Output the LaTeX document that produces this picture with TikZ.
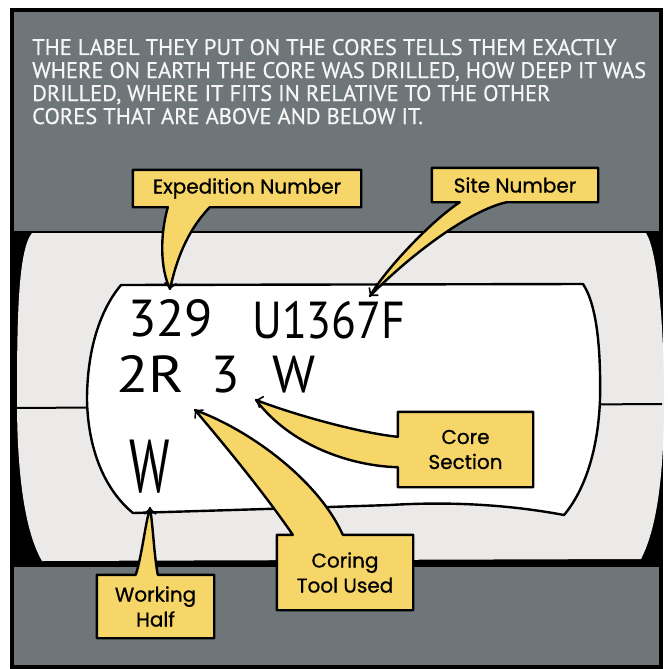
\documentclass[tikz,border=0pt]{standalone}
\usepackage{fontspec}
\setmainfont{PT Sans}
\newfontfamily\capfont[FakeBold=0.6]{PT Sans}
\newfontfamily\tagfont[FakeBold=0.8]{Poppins}
\usetikzlibrary{arrows.meta,calc}

\definecolor{panelgray}{RGB}{110,118,121}
\definecolor{coregray}{RGB}{236,233,233}
\definecolor{tagyellow}{RGB}{246,214,104}
\definecolor{captionwhite}{RGB}{246,246,246}

\pgfdeclarelayer{back}
\pgfsetlayers{back,main}

\begin{document}
\begin{tikzpicture}[x=1pt, y=-1pt,
  caption/.style={anchor=base west, inner sep=0pt, text=captionwhite, font=\capfont\fontsize{22.5}{22.5}\selectfont},
  hand/.style={anchor=base west, inner sep=0pt, font=\fontsize{52}{52}\selectfont},
  tagbox/.style={align=center, inner sep=0pt, font=\tagfont\fontsize{20}{25}\selectfont},
  tagshape/.style={fill=tagyellow, draw=black, line width=2.4pt, line join=round},
  barb/.style={-{Straight Barb[length=5pt,width=12pt]}, line width=1.6pt}
]
\useasboundingbox (0,0) rectangle (667,669);

% caption
\foreach \txt [count=\i] in {THE LABEL THEY PUT ON THE CORES TELLS THEM EXACTLY,
    {WHERE ON EARTH THE CORE WAS DRILLED, HOW DEEP IT WAS},
    {DRILLED, WHERE IT FITS IN RELATIVE TO THE OTHER},
    CORES THAT ARE ABOVE AND BELOW IT.}
  \node[caption] (cap\i) at (32,32+23*\i) {\txt};

% handwriting on the label
\node[hand] (expNum) at (128,336) {329};
\node[hand] (siteNum) at (252,338) {\scalebox{0.88}[1]{U1367F}};
\node[hand] (toolNum) at (116,392) {\scalebox{1.15}[1]{2R}};
\node[hand] (sectNum) at (211,392) {3};
\node[hand] (halfTop) at (272,392) {W};
\node[hand] (halfMark) at (129,492) {\fontsize{75}{75}\selectfont\scalebox{0.65}[1]{W}};

% callout boxes
\node[tagbox, minimum width=228pt, minimum height=37pt] (expTag) at (247,188.5) {Expedition Number};
\node[tagbox, minimum width=166pt, minimum height=34pt] (siteTag) at (515,185) {Site Number};
\node[tagbox, minimum width=135pt, minimum height=75pt] (sectTag) at (465.5,449.5) {Core\\Section};
\node[tagbox, minimum width=136pt, minimum height=75pt] (toolTag) at (345,572.5) {Coring\\Tool Used};
\node[tagbox, minimum width=117pt, minimum height=63pt] (halfTag) at (155.5,606.5) {Working\\Half};

% where the tails point
\coordinate (expTip) at (170,289);
\coordinate (siteTip) at (370,296);
\coordinate (sectTip) at (256,400);
\coordinate (toolTip) at (195,410);
\coordinate (halfTip) at (150,508);

\begin{pgfonlayer}{back}
  \fill[white] (0,0) rectangle (667,669);
  \filldraw[fill=panelgray, line width=4pt] (12,10) rectangle (661,667);
  % core in its tray
  \fill[black] (13,231) rectangle (660,567);
  \fill[coregray] (32,233) -- (646,233) .. controls (657,250) and (664,320) .. (664,400)
      .. controls (664,480) and (656,530) .. (641,559) -- (42,561)
      .. controls (24,530) and (17,470) .. (17,400) .. controls (17,320) and (18,250) .. cycle;
  \draw[line width=2pt] (15,408) -- (662,404);
  % label sheet
  \filldraw[fill=white, line width=2.4pt, line join=round] (121,285) -- (583,284)
      .. controls (597,305) and (601,350) .. (600,400) .. controls (598,450) and (585,490) .. (564,515)
      .. controls (500,503) and (440,502) .. (390,505) .. controls (300,508) and (200,511) .. (133,513)
      .. controls (105,490) and (88,450) .. (87,400) .. controls (87,350) and (100,310) .. cycle;
  % callouts
  \path[tagshape] (expTag.north west) -- (expTag.north east) -- (expTag.south east)
      -- ($(expTag.south west)+(77,0)$) .. controls (186,232) and (176,262) .. (expTip)
      .. controls (160,268) and (160,235) .. ($(expTag.south west)+(35,0)$) -- (expTag.south west) -- cycle;
  \path[tagshape] (siteTag.north west) -- (siteTag.north east) -- (siteTag.south east)
      -- ($(siteTag.south west)+(75,0)$) .. controls (470,210) and (410,255) .. (siteTip)
      .. controls (385,270) and (430,222) .. ($(siteTag.south west)+(28,0)$) -- (siteTag.south west) -- cycle;
  \path[tagshape] (sectTag.north west) -- (sectTag.north east) -- (sectTag.south east) -- (sectTag.south west)
      -- ($(sectTag.south west)+(0,-20)$) .. controls (350,466) and (290,445) .. (sectTip)
      .. controls (295,415) and (360,433) .. ($(sectTag.north west)+(0,25)$) -- cycle;
  \path[tagshape] (toolTag.north west) -- ($(toolTag.north west)+(16,0)$) .. controls (262,490) and (222,442) .. (toolTip)
      .. controls (250,430) and (318,480) .. ($(toolTag.north west)+(66,0)$) -- (toolTag.north east)
      -- (toolTag.south east) -- (toolTag.south west) -- cycle;
  \path[tagshape] (halfTag.north west) -- ($(halfTag.north west)+(39,0)$) .. controls (142,555) and (145,525) .. (halfTip)
      .. controls (153,525) and (154,555) .. ($(halfTag.north west)+(61,0)$) -- (halfTag.north east)
      -- (halfTag.south east) -- (halfTag.south west) -- cycle;
\end{pgfonlayer}

% arrow marks at the tail tips
\draw[barb] ($(expTip)!1pt!(172,270)$) -- (expTip);
\draw[barb] ($(siteTip)!1pt!(385,278)$) -- (siteTip);
\draw[barb] ($(sectTip)!1pt!(275,407)$) -- (sectTip);
\draw[barb] ($(toolTip)!1pt!(210,425)$) -- (toolTip);
\draw[barb] ($(halfTip)!1pt!(150,525)$) -- (halfTip);
\end{tikzpicture}
\end{document}
